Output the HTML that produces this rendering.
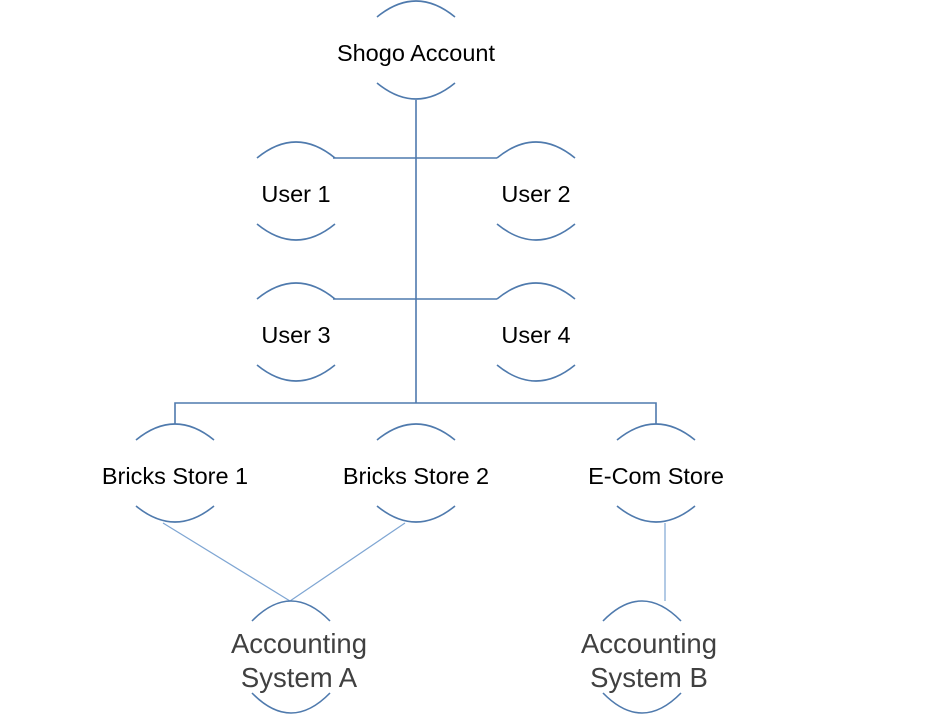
<!DOCTYPE html>
<html><head><meta charset="utf-8"><style>
html,body{margin:0;padding:0;background:#fff;}
svg{display:block;}
text{font-family:"Liberation Sans",sans-serif;}
</style></head><body>
<svg width="930" height="715" viewBox="0 0 930 715" xmlns="http://www.w3.org/2000/svg">
<g stroke="#4f7aad" stroke-width="1.6" fill="none">
<line x1="416" y1="100" x2="416" y2="403"/>
<line x1="333" y1="158" x2="497" y2="158"/>
<line x1="333" y1="299" x2="497" y2="299"/>
<polyline points="175,424 175,403 656,403 656,424"/>
</g>
<g stroke="#7fa6d3" stroke-width="1.2" fill="none">
<line x1="163" y1="523" x2="290" y2="601"/>
<line x1="405" y1="523" x2="290" y2="601"/>
<line x1="665" y1="523" x2="665" y2="601"/>
</g>
<g stroke="#4f7aad" stroke-width="1.6" fill="none">
<path d="M377,17 Q416,-15 455,17 M377,83 Q416,115 455,83"/>
<path d="M257,158 Q296,126 335,158 M257,224 Q296,256 335,224"/>
<path d="M497,158 Q536,126 575,158 M497,224 Q536,256 575,224"/>
<path d="M257,299 Q296,267 335,299 M257,365 Q296,397 335,365"/>
<path d="M497,299 Q536,267 575,299 M497,365 Q536,397 575,365"/>
<path d="M136,440 Q175,408 214,440 M136,506 Q175,538 214,506"/>
<path d="M377,440 Q416,408 455,440 M377,506 Q416,538 455,506"/>
<path d="M617,440 Q656,408 695,440 M617,506 Q656,538 695,506"/>
<path d="M252,621 Q291,581 330,621 M252,693 Q291,733 330,693"/>
<path d="M603,621 Q642,581 681,621 M603,693 Q642,733 681,693"/>
</g>
<g font-size="23.5" fill="#000" text-anchor="middle">
<text x="416" y="61">Shogo Account</text>
<text x="296" y="202">User 1</text>
<text x="536" y="202">User 2</text>
<text x="296" y="343">User 3</text>
<text x="536" y="343">User 4</text>
<text x="175" y="484">Bricks Store 1</text>
<text x="416" y="484">Bricks Store 2</text>
<text x="656" y="484">E-Com Store</text>
</g>
<g font-size="27.5" fill="#404040" text-anchor="middle">
<text x="299" y="653">Accounting</text>
<text x="299" y="687">System A</text>
<text x="649" y="653">Accounting</text>
<text x="649" y="687">System B</text>
</g>
</svg>
</body></html>
